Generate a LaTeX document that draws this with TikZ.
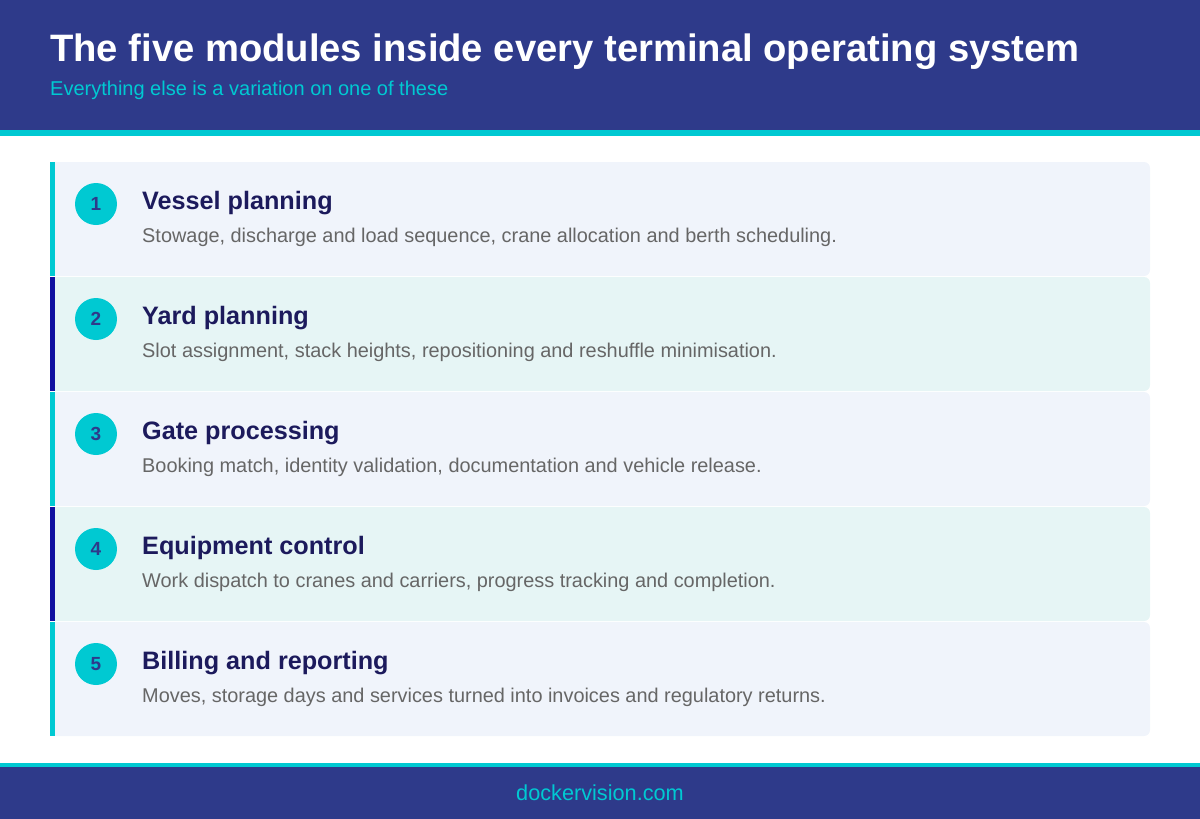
\documentclass[tikz,border=0pt]{standalone}
\usepackage{fontspec}
\setmainfont{Liberation Sans}
\usetikzlibrary{positioning}
\definecolor{navy}{HTML}{2E3A8A}
\definecolor{teal}{HTML}{00C9D2}
\definecolor{deepblue}{HTML}{1010A0}
\definecolor{cardA}{HTML}{F0F4FB}
\definecolor{cardB}{HTML}{E6F5F5}
\definecolor{titleink}{HTML}{1C1A5C}
\definecolor{bodyink}{HTML}{666666}
\tikzset{
  card/.style={fill=#1, rounded corners=6pt},
  badge/.style={circle, fill=teal, minimum size=42pt, inner sep=0pt,
    font=\fontsize{19}{19}\selectfont\bfseries, text=navy},
  modtitle/.style={anchor=west, inner sep=0pt, text=titleink,
    font=\fontsize{25.2}{25.2}\selectfont\bfseries},
  moddesc/.style={anchor=west, inner sep=0pt, text=bodyink,
    font=\fontsize{19.9}{19.9}\selectfont}
}
\begin{document}
\begin{tikzpicture}[x=1pt, y=-1pt]
  \useasboundingbox (0,0) rectangle (1200,819);
  % header
  \fill[navy] (0,0) rectangle (1200,130);
  \fill[teal] (0,130) rectangle (1200,136);
  \node[anchor=west, inner sep=0pt, text=white,
    font=\fontsize{38.2}{38.2}\selectfont\bfseries] (title) at (50,52)
    {The five modules inside every terminal operating system};
  \node[anchor=west, inner sep=0pt, text=teal,
    font=\fontsize{20}{20}\selectfont] (subtitle) at (50,90)
    {Everything else is a variation on one of these};
  % module cards
  \foreach \i/\fillc/\barc/\name/\desc in {
    1/cardA/teal/Vessel planning/{Stowage, discharge and load sequence, crane allocation and berth scheduling.},
    2/cardB/deepblue/Yard planning/{Slot assignment, stack heights, repositioning and reshuffle minimisation.},
    3/cardA/teal/Gate processing/{Booking match, identity validation, documentation and vehicle release.},
    4/cardB/deepblue/Equipment control/{Work dispatch to cranes and carriers, progress tracking and completion.},
    5/cardA/teal/Billing and reporting/{Moves, storage days and services turned into invoices and regulatory returns.}}
  {
    \pgfmathsetmacro{\top}{162+115*(\i-1)}
    \fill[card=\fillc] (50,\top) rectangle (1150,\top+114);
    \fill[\barc] (50,\top) rectangle (55,\top+114);
    \node[badge] (n\i) at (96,\top+42) {\i};
    \node[modtitle] (t\i) at (142,\top+41) {\name};
    \node[moddesc] (d\i) at (142,\top+75) {\desc};
  }
  % footer
  \fill[teal] (0,763) rectangle (1200,767);
  \fill[navy] (0,767) rectangle (1200,819);
  \node[text=teal, font=\fontsize{21.7}{21.7}\selectfont] (site) at (600,793)
    {dockervision.com};
\end{tikzpicture}
\end{document}
